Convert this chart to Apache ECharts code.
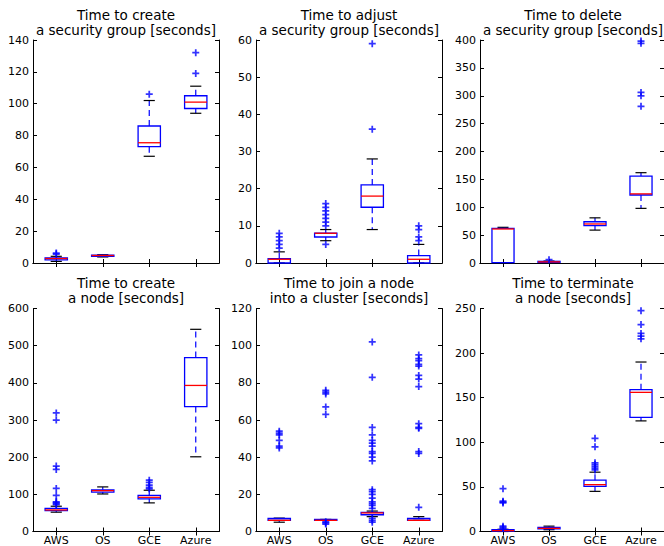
<!DOCTYPE html>
<html>
<head>
<meta charset="utf-8">
<script src="https://cdn.jsdelivr.net/npm/echarts@6/dist/echarts.min.js"></script>
<style>
  html, body { margin: 0; padding: 0; background: #fff; }
  #chart { width: 664px; height: 546px; }
</style>
</head>
<body>
<div id="chart"></div>
<script>
const providers = ['AWS', 'OS', 'GCE', 'Azure'];

const titles = [
  'Time to create\na security group [seconds]',
  'Time to adjust\na security group [seconds]',
  'Time to delete\na security group [seconds]',
  'Time to create\na node [seconds]',
  'Time to join a node\ninto a cluster [seconds]',
  'Time to terminate\na node [seconds]'
];
const yMax = [140, 60, 400, 600, 120, 250];
const yStep = [20, 10, 50, 100, 20, 50];

// box stats per provider: [min, q1, median, q3, max]
const sgCreateBox = [[1, 2, 2.8, 3.2, 4.2], [3.8, 4.1, 4.7, 5, 5.2], [67, 73, 75.5, 86, 102], [94, 97, 101, 105, 111]];
const sgCreateOut = [[5.6, 6.2], [], [106], [119, 132]];

const sgAdjustBox = [[0, 0, 1, 1.2, 3], [6, 7, 8, 8, 9], [9, 15, 18, 21, 28], [0, 0, 1, 2, 5]];
const sgAdjustOut = [[4, 5, 6, 7, 8], [5, 10, 11, 12, 13, 14, 15, 16], [36, 59], [6, 7, 9, 10]];

const sgDeleteBox = [[0, 0.5, 61, 62, 64], [0, 1, 2, 3, 3.5], [59, 67, 70, 74, 81], [98, 122, 124, 156, 162]];
const sgDeleteOut = [[], [6], [], [281, 300, 306, 394, 398]];

const nodeCreateBox = [[52, 56, 58, 62, 68], [101, 106, 110, 112, 120], [77, 88, 92, 97, 111], [201, 336, 393, 468, 544]];
const nodeCreateOut = [[72, 75, 78, 80, 97, 116, 167, 176, 300, 319], [], [115, 119, 125, 132, 138], []];

const nodeJoinBox = [[5, 6, 6, 7, 7.2], [6, 6, 6, 6.5, 6.5], [8, 9, 10, 10.3, 11], [6, 6, 6, 7, 8]];
const nodeJoinOut = [
  [45, 46, 49, 52, 53, 54],
  [4, 4.6, 5.2, 63, 67, 74, 75, 76],
  [5, 6, 7, 12.5, 14, 15, 16, 18, 20, 21.5, 22.5, 38, 40, 42, 43, 46, 47.5, 49, 52, 56, 83, 102],
  [13, 42, 43, 55.5, 56, 58, 78, 82, 84, 89, 90, 92, 93, 95]
];

const nodeTermBox = [[0, 0.5, 1, 2, 2.5], [2, 3, 3.5, 4.5, 6], [45, 50.5, 52.5, 57.5, 66.5], [124, 128, 156, 159, 190]];
const nodeTermOut = [[3.5, 4.5, 6, 32, 33, 34, 48], [], [69, 71, 73, 75, 77, 95, 104.5], [216, 219, 222, 232, 247.5]];

const boxes = [sgCreateBox, sgAdjustBox, sgDeleteBox, nodeCreateBox, nodeJoinBox, nodeTermBox];
const outliers = [sgCreateOut, sgAdjustOut, sgDeleteOut, nodeCreateOut, nodeJoinOut, nodeTermOut];

const FONT = 'DejaVu Sans';
const lefts = [33, 256, 480];
const tops = [40, 308.5];
const W = 186, H = 223;

const plus = 'path://M3,0h2v3h3v2h-3v3h-2v-3h-3v-2h3z';

function renderBox(params, api) {
  const i = api.value(0);
  const pt = v => api.coord([i, api.value(v)]);
  const [cx, yMin] = pt(1);
  const yQ1 = pt(2)[1], yMed = pt(3)[1], yQ3 = pt(4)[1], yMax_ = pt(5)[1];
  const bw = api.size([1, 0])[0] * 0.48;
  const cw = bw * 0.5;
  const blue = '#0000ff';
  return {
    type: 'group',
    children: [
      { type: 'line', shape: { x1: cx, y1: yQ1, x2: cx, y2: yMin }, style: { stroke: blue, lineWidth: 1.2, lineDash: [6, 4] } },
      { type: 'line', shape: { x1: cx, y1: yQ3, x2: cx, y2: yMax_ }, style: { stroke: blue, lineWidth: 1.2, lineDash: [6, 4] } },
      { type: 'line', shape: { x1: cx - cw / 2, y1: yMin, x2: cx + cw / 2, y2: yMin }, style: { stroke: '#000', lineWidth: 1.2 } },
      { type: 'line', shape: { x1: cx - cw / 2, y1: yMax_, x2: cx + cw / 2, y2: yMax_ }, style: { stroke: '#000', lineWidth: 1.2 } },
      { type: 'rect', shape: { x: cx - bw / 2, y: yQ3, width: bw, height: yQ1 - yQ3 }, style: { stroke: blue, fill: 'none', lineWidth: 1.3 } },
      { type: 'line', shape: { x1: cx - bw / 2, y1: yMed, x2: cx + bw / 2, y2: yMed }, style: { stroke: '#ff0000', lineWidth: 1.3 } }
    ]
  };
}

const grid = [], xAxis = [], yAxis = [], series = [], title = [];
for (let g = 0; g < 6; g++) {
  const col = g % 3, row = Math.floor(g / 3);
  grid.push({ left: lefts[col], top: tops[row], width: W, height: H });
  title.push({
    text: titles[g], left: lefts[col] + W / 2, top: row === 0 ? 7 : 275.5, textAlign: 'center', padding: 0,
    textStyle: { fontFamily: FONT, fontSize: 13.5, fontWeight: 'normal', color: '#000', lineHeight: 15 }
  });
  const line = { show: true, lineStyle: { color: '#000', width: 1 } };
  const tick = { show: true, inside: true, length: 4, alignWithLabel: true, lineStyle: { color: '#000' } };
  ['bottom', 'top'].forEach((pos, k) => {
    xAxis.push({
      type: 'category', gridIndex: g, position: pos, data: providers, boundaryGap: true,
      axisLine: line, axisTick: tick, splitLine: { show: false },
      axisLabel: { show: k === 0 && row === 1, color: '#000', fontFamily: FONT, fontSize: 11, margin: 3 }
    });
  });
  ['left', 'right'].forEach((pos, k) => {
    yAxis.push({
      type: 'value', gridIndex: g, position: pos, min: 0, max: yMax[g], interval: yStep[g],
      axisLine: line, axisTick: tick, splitLine: { show: false },
      axisLabel: { show: k === 0, color: '#000', fontFamily: FONT, fontSize: 11, margin: 4 }
    });
  });
  series.push({
    type: 'custom', xAxisIndex: 2 * g, yAxisIndex: 2 * g,
    data: boxes[g].map((b, i) => [i].concat(b)),
    encode: { x: 0, y: [1, 2, 3, 4, 5] },
    renderItem: renderBox, z: 2, silent: true
  });
  series.push({
    type: 'scatter', xAxisIndex: 2 * g, yAxisIndex: 2 * g,
    data: outliers[g].flatMap((vals, i) => vals.map(v => [i, v])),
    symbol: plus, symbolSize: 7, itemStyle: { color: '#0000ff' }, z: 3, silent: true
  });
}

const chart = echarts.init(document.getElementById('chart'), null, { renderer: 'svg' });
chart.setOption({
  animation: false,
  backgroundColor: '#fff',
  title, grid, xAxis, yAxis, series
});
</script>
</body>
</html>
